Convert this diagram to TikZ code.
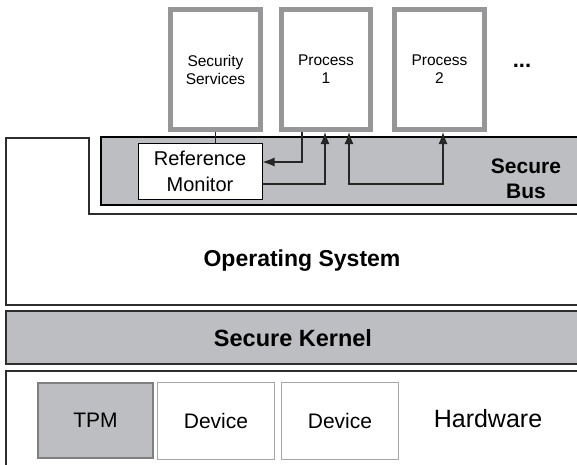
\documentclass[tikz,border=0pt]{standalone}
\usepackage{fontspec}
\setmainfont{Liberation Sans}
\usetikzlibrary{arrows.meta}
\definecolor{busgray}{RGB}{189,190,193}
\definecolor{procgray}{RGB}{150,150,152}
\definecolor{edgegray}{RGB}{45,45,45}
\tikzset{
  proc/.style={draw=procgray, line width=5pt, fill=white, minimum height=120pt, inner sep=0pt, align=center, font=\fontsize{15.5}{18}\selectfont},
  layer/.style={draw=edgegray, line width=1.4pt},
  dev/.style={draw=black!35, line width=0.8pt, fill=white, minimum width=117pt, minimum height=77pt, inner sep=0pt, font=\fontsize{21}{24}\selectfont},
  conn/.style={line width=1.1pt, draw=black!85},
  arr/.style={conn, -{Latex[length=12pt,width=9pt]}},
  barr/.style={conn, {Latex[length=12pt,width=9pt]}-{Latex[length=12pt,width=9pt]}},
  lbl/.style={inner sep=0pt, align=center}
}
\begin{document}
\begin{tikzpicture}[x=1pt,y=-1pt]
\useasboundingbox (0,0) rectangle (577,464);
\clip (0,0) rectangle (577,464);
% layers
\draw[layer] (620,214) -- (89,214) -- (89,138) -- (6,138) -- (6,305) -- (620,305);
\draw[layer, draw=black, line width=1.2pt, fill=busgray] (101,137) rectangle (620,205);
\draw[layer, fill=busgray] (6,311) rectangle (620,364);
\draw[layer, fill=white] (6,371) rectangle (620,480);
% processes
\node[proc, minimum width=90pt] (ss) at (215.5,69.5) {Security\\Services};
\node[proc, minimum width=89pt] (p1) at (326,69.5) {Process\\1};
\node[proc, minimum width=90pt] (p2) at (439.5,69.5) {Process\\2};
\node[lbl, font=\bfseries\fontsize{22}{24}\selectfont] (dots) at (522,66) {...};
% reference monitor
\node[draw=black, line width=1pt, fill=white, minimum width=124pt, minimum height=56pt, inner sep=0pt, align=center, font=\fontsize{20}{26}\selectfont] (rm) at (200,171) {Reference\\Monitor};
\node[lbl, font=\bfseries\fontsize{21}{25}\selectfont] (sb) at (526,179) {Secure\\Bus};
% connectors
\coordinate (busline) at (400,184);
\draw[conn] (ss.south) -- (ss.south |- rm.north);
\draw[arr] ([xshift=-24pt]p1.south) |- ([yshift=9pt]rm.east);
\draw[arr] ([yshift=-13pt]rm.east) -| ([xshift=-1pt]p1.south);
\draw[barr] ([xshift=23pt]p1.south) |- ([xshift=3.5pt]p2.south |- busline) -- ([xshift=3.5pt]p2.south);
% layer labels
\node[lbl, font=\bfseries\fontsize{23}{26}\selectfont] (os) at (302,261) {Operating System};
\node[lbl, font=\bfseries\fontsize{23.5}{26}\selectfont] (sk) at (293,338) {Secure Kernel};
% hardware
\node[dev, draw=black!50, line width=2pt, fill=busgray, minimum width=115pt, minimum height=75pt] (tpm) at (95.5,420.5) {TPM};
\node[dev] (d1) at (216,421) {Device};
\node[dev] (d2) at (340,421) {Device};
\node[lbl, font=\fontsize{25}{28}\selectfont] (hw) at (488,419) {Hardware};
\end{tikzpicture}
\end{document}
